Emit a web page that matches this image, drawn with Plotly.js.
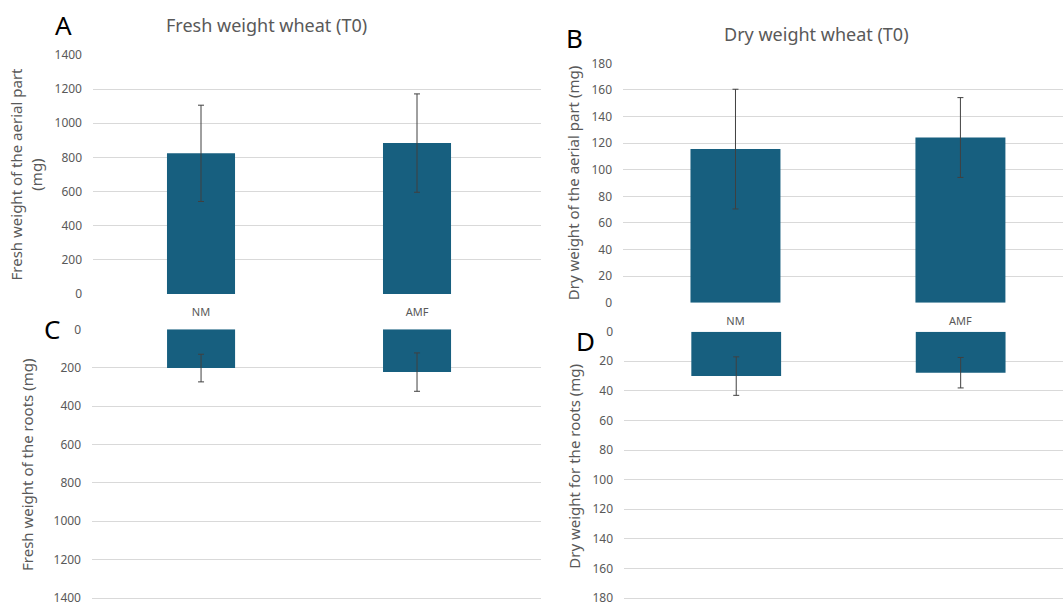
<!DOCTYPE html>
<html>
<head>
<meta charset="utf-8">
<script src="https://cdn.plot.ly/plotly-3.0.1.min.js"></script>
<style>html,body{margin:0;padding:0;background:#fff;}#chart{width:1063px;height:605px;}</style>
</head>
<body>
<div id="chart"></div>
<script>
const categories = ['NM', 'AMF'];
const freshAerial = [824, 884];
const freshAerialErr = [282, 288];
const dryAerial = [115.5, 124.2];
const dryAerialErr = [45, 30];
const freshRoots = [202, 223];
const freshRootsErr = [72, 100];
const dryRoots = [30, 27.7];
const dryRootsErr = [13, 10.3];
const freshTicks = [0, 200, 400, 600, 800, 1000, 1200, 1400];
const dryTicks = [0, 20, 40, 60, 80, 100, 120, 140, 160, 180];

const BAR = '#175f7f';
const ERR = '#404040';
const GRID = '#d9d9d9';
const TXT = '#595959';
const FONT = 'Noto Sans, Open Sans, sans-serif';

function bar(y, err, xa, ya, w) {
  return {
    type: 'bar', x: categories, y: y, xaxis: xa, yaxis: ya, width: w,
    marker: {color: BAR},
    error_y: {type: 'data', array: err, visible: true, color: ERR, thickness: 1, width: 3},
    showlegend: false, hoverinfo: 'x+y'
  };
}

const data = [
  bar(freshAerial, freshAerialErr, 'x', 'y', 0.315),
  bar(dryAerial, dryAerialErr, 'x2', 'y2', 0.4),
  bar(freshRoots, freshRootsErr, 'x3', 'y3', 0.315),
  bar(dryRoots, dryRootsErr, 'x4', 'y4', 0.4)
];

const W = 1063, H = 605;
function dx(a, b) { return [a / W, b / W]; }
function dy(top, bottom) { return [1 - bottom / H, 1 - top / H]; }

function xax(domain, range, show, anchor) {
  return {domain: domain, range: range, anchor: anchor, type: 'category', showgrid: false, zeroline: false,
    showline: false, ticks: '', showticklabels: show, ticklabelstandoff: 10,
    tickfont: {size: 11, color: TXT, family: FONT}};
}
function yax(domain, range, ticks, title, xanchor, standoff) {
  return {domain: domain, range: range, anchor: xanchor, tickvals: ticks, ticktext: ticks.map(String),
    showgrid: true, gridcolor: GRID, gridwidth: 1, zeroline: false, showline: false, ticks: '',
    ticklabelstandoff: 10, ticklabeloverflow: 'allow',
    tickfont: {size: 12, color: TXT, family: FONT},
    title: {text: title, font: {size: 15, color: TXT, family: FONT}, standoff: standoff}};
}

const layout = {
  width: W, height: H,
  margin: {l: 0, r: 0, t: 0, b: 0},
  paper_bgcolor: '#ffffff', plot_bgcolor: '#ffffff',
  font: {family: FONT, color: TXT},
  xaxis: xax(dx(93, 541), [-0.5, 1.574], true, 'y'),
  yaxis: yax(dy(55, 294), [0, 1400], freshTicks, 'Fresh weight of the aerial part<br>(mg)', 'x', 8),
  xaxis2: xax(dx(623, 1063), [-0.5, 1.456], true, 'y2'),
  yaxis2: yax(dy(63.3, 302.7), [0, 180], dryTicks, 'Dry weight of the aerial part (mg)', 'x2', 8),
  xaxis3: xax(dx(92, 541), [-0.505, 1.574], false, 'y3'),
  yaxis3: yax(dy(329.3, 600.3), [1412, 0], freshTicks, 'Fresh weight of the roots (mg)', 'x3', 16),
  xaxis4: xax(dx(624, 1063), [-0.5, 1.456], false, 'y4'),
  yaxis4: yax(dy(331.7, 601), [182, 0], dryTicks, 'Dry weight for the roots (mg)', 'x4', 8),
  annotations: [
    {text: 'Fresh weight wheat (T0)', xref: 'paper', yref: 'paper', x: 266 / W, y: 1 - 25 / H,
      xanchor: 'center', yanchor: 'middle', showarrow: false, font: {size: 18, color: TXT, family: FONT}},
    {text: 'Dry weight wheat (T0)', xref: 'paper', yref: 'paper', x: 816 / W, y: 1 - 34 / H,
      xanchor: 'center', yanchor: 'middle', showarrow: false, font: {size: 18, color: TXT, family: FONT}},
    {text: 'A', xref: 'paper', yref: 'paper', x: 63 / W, y: 1 - 25 / H, xanchor: 'center', yanchor: 'middle',
      showarrow: false, font: {size: 26, color: '#000', family: FONT}},
    {text: 'B', xref: 'paper', yref: 'paper', x: 574 / W, y: 1 - 38 / H, xanchor: 'center', yanchor: 'middle',
      showarrow: false, font: {size: 26, color: '#000', family: FONT}},
    {text: 'C', xref: 'paper', yref: 'paper', x: 52 / W, y: 1 - 329 / H, xanchor: 'center', yanchor: 'middle',
      showarrow: false, font: {size: 26, color: '#000', family: FONT}},
    {text: 'D', xref: 'paper', yref: 'paper', x: 585 / W, y: 1 - 341 / H, xanchor: 'center', yanchor: 'middle',
      showarrow: false, font: {size: 26, color: '#000', family: FONT}}
  ]
};

Plotly.newPlot('chart', data, layout, {displayModeBar: false, staticPlot: true});
</script>
</body>
</html>
